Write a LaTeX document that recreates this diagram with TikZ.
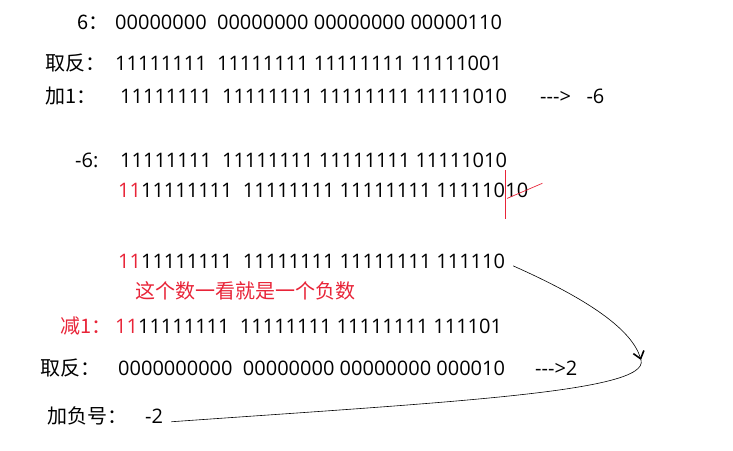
\documentclass[tikz,border=0pt]{standalone}
\usepackage{fontspec}
\setmainfont{Open Sans}
\newfontfamily\cjk{Noto Sans CJK SC}
\usetikzlibrary{arrows.meta}
\definecolor{zred}{RGB}{232,36,56}

\begin{document}
\begin{tikzpicture}[x=1pt, y=-1pt,
        txt/.style = {anchor=base west, inner sep=0pt, font=\fontsize{20}{24}\selectfont},
        cjktxt/.style = {txt, font=\cjk\fontsize{20}{24}\selectfont},
        redtxt/.style = {cjktxt, text=zred},
        swoop/.style = {line width=0.6pt}
    ]
    \useasboundingbox (0,0) rectangle (733,450);
    % 6 -> -6
    \node[cjktxt] (l6) at (77,29) {6：};
    \node[txt] (b6) at (115,29) {00000000\ \ 00000000 00000000 00000110};
    \node[cjktxt] (linv) at (45,70) {取反：};
    \node[txt] (binv) at (115,70) {11111111\ \ 11111111 11111111 11111001};
    \node[cjktxt] (ladd) at (45,103) {加1：};
    \node[txt] (badd) at (120,103) {11111111\ \ 11111111 11111111 11111010};
    \node[txt] (rneg6) at (540,103) {-{}-{}-{}>\ \ \ -6};
    % shift
    \node[txt] (lm6) at (75,167) {-6:};
    \node[txt] (bm6) at (120,167) {11111111\ \ 11111111 11111111 11111010};
    \node[txt] (bsh) at (118,197) {{\color{zred}11}11111111\ \ 11111111 11111111 111110};
    \node[txt] (cut) at (bsh.base east) {10};
    \draw[zred, line width=1.2pt] ([xshift=0.5pt, yshift=12pt]cut.north west) -- ([xshift=0.5pt, yshift=-22pt]cut.south west);
    \draw[zred, line width=0.7pt] ([xshift=2pt, yshift=-1pt]cut.south west) -- ([xshift=14pt, yshift=-1pt]cut.north east);
    % -2
    \node[txt] (bres) at (118,268) {{\color{zred}11}11111111\ \ 11111111 11111111 111110};
    \node[redtxt] (note) at (135,298) {这个数一看就是一个负数};
    \node[redtxt] (lsub) at (60,333) {减1：};
    \node[txt] (bsub) at (115,333) {{\color{zred}11}11111111\ \ 11111111 11111111 111101};
    \node[cjktxt] (linv2) at (40,375) {取反：};
    \node[txt] (binv2) at (118,375) {0000000000\ \ 00000000 00000000 000010};
    \node[txt] (rpos2) at (535,375) {-{}-{}-{}>2};
    \node[cjktxt] (lneg) at (47,423) {加负号：};
    \node[txt] (bneg) at (145,423) {-2};
    \coordinate (tip) at (641,360);
    \draw[swoop, -{Straight Barb[length=7pt, width=11pt, line width=1.6pt]}]
        ([xshift=8pt, yshift=-5pt]bres.east) .. controls (590,300) and (632,330) .. (tip);
    \draw[swoop] ([xshift=8pt, yshift=-6pt]bneg.east) .. controls (450,402) and (650,392) .. (tip);
\end{tikzpicture}
\end{document}
